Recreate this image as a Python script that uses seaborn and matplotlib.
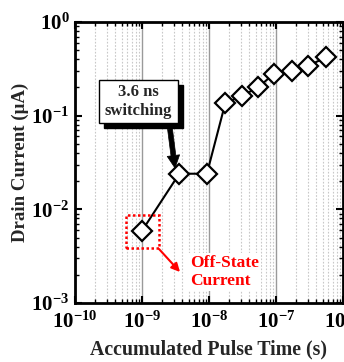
import numpy as np
import pandas as pd
import matplotlib
matplotlib.use("Agg")
import matplotlib.pyplot as plt
import matplotlib.ticker as mticker
from matplotlib.patches import Rectangle
import seaborn as sns

# ---- data ----
pulse_time = [1.0e-9, 3.6e-9, 9.3e-9, 1.75e-8, 3.1e-8, 5.4e-8, 9.3e-8, 1.75e-7, 3.0e-7, 5.6e-7]
drain_current = [0.0059, 0.024, 0.024, 0.136, 0.163, 0.20, 0.28, 0.30, 0.34, 0.42]
x_label = "Accumulated Pulse Time (s)"
y_label = "Drain Current (\u03bcA)"
box_text = "3.6 ns\nswitching"
red_text = "Off-State\nCurrent"

sns.set_style("ticks")
plt.rcParams["font.family"] = ["Liberation Serif", "DejaVu Serif"]
plt.rcParams["font.weight"] = "bold"
plt.rcParams["mathtext.fontset"] = "custom"
plt.rcParams["mathtext.rm"] = "Liberation Serif:bold"
plt.rcParams["mathtext.bf"] = "Liberation Serif:bold"

df = pd.DataFrame({"t": pulse_time, "i": drain_current})

fig = plt.figure(figsize=(3.44, 3.62), dpi=100)
ax = fig.add_axes([75/344, 1 - 303/362, 268/344, 281/362])

ax.set_xscale("log")
ax.set_yscale("log")
ax.set_xlim(1e-10, 1e-6)
ax.set_ylim(1e-3, 1e0)

# vertical grid only
ax.xaxis.set_major_locator(mticker.LogLocator(base=10, numticks=10))
ax.xaxis.set_minor_locator(mticker.LogLocator(base=10, subs=np.arange(2, 10), numticks=20))
ax.yaxis.set_major_locator(mticker.LogLocator(base=10, numticks=10))
ax.yaxis.set_minor_locator(mticker.LogLocator(base=10, subs=np.arange(2, 10), numticks=20))
ax.xaxis.set_minor_formatter(mticker.NullFormatter())
ax.yaxis.set_minor_formatter(mticker.NullFormatter())
ax.grid(False)
ax.xaxis.grid(True, which="major", color="#9a9a9a", lw=1.0, ls="-")
ax.xaxis.grid(True, which="minor", color="#c8c8c8", lw=0.8, ls=(0, (1.5, 1.5)))
ax.set_axisbelow(True)

sns.lineplot(data=df, x="t", y="i", ax=ax, color="black", lw=1.5,
             marker="D", markersize=10, markerfacecolor="white",
             markeredgecolor="black", markeredgewidth=1.6, zorder=5)

for s in ax.spines.values():
    s.set_linewidth(2.0)
    s.set_color("black")
ax.tick_params(which="both", direction="in", top=True, right=True, colors="black")
ax.tick_params(which="major", length=5, width=1.5, labelsize=15)
ax.tick_params(axis="x", which="major", pad=6)
ax.tick_params(axis="y", which="major", pad=4)
ax.tick_params(which="minor", length=3, width=1.0)
for lab in ax.get_xticklabels() + ax.get_yticklabels():
    lab.set_fontweight("bold")

ax.set_xlabel(x_label, fontsize=14.3, fontweight="bold", labelpad=5)
ax.set_ylabel(y_label, fontsize=13.6, fontweight="bold", labelpad=2)

# boxed annotation with shadow
bx0, bx1 = (99 - 75) / 268, (178 - 75) / 268
by0, by1 = 1 - (123 - 22) / 281, 1 - (80 - 22) / 281
off_x, off_y = 5 / 268, 5 / 281
ax.add_patch(Rectangle((bx0 + off_x, by0 - off_y), bx1 - bx0, by1 - by0,
                       transform=ax.transAxes, facecolor="black", edgecolor="black",
                       zorder=6, clip_on=False))
ax.add_patch(Rectangle((bx0, by0), bx1 - bx0, by1 - by0,
                       transform=ax.transAxes, facecolor="white", edgecolor="black",
                       lw=1.0, zorder=7, clip_on=False))
ax.text((bx0 + bx1) / 2, (by0 + by1) / 2, box_text, transform=ax.transAxes,
        ha="center", va="center", fontsize=12, fontweight="bold", zorder=8,
        linespacing=1.2)
ax.annotate("", xy=((175 - 75) / 268, 1 - (168 - 22) / 281),
            xytext=((170 - 75) / 268, 1 - (129 - 22) / 281),
            xycoords="axes fraction", textcoords="axes fraction",
            arrowprops=dict(arrowstyle="simple,head_length=0.9,head_width=0.9,tail_width=0.35",
                            color="black", lw=0.5, shrinkA=0, shrinkB=0), zorder=8)

# red dotted rectangle and arrow
rx0, rx1 = (126 - 75) / 268, (159 - 75) / 268
ry0, ry1 = 1 - (248 - 22) / 281, 1 - (215 - 22) / 281
ax.add_patch(Rectangle((rx0, ry0), rx1 - rx0, ry1 - ry0, transform=ax.transAxes,
                       fill=False, edgecolor="red", lw=1.8, ls=(0, (1, 1)), zorder=6))
ax.annotate("", xy=((180 - 75) / 268, 1 - (272 - 22) / 281),
            xytext=((159 - 75) / 268, 1 - (249 - 22) / 281),
            xycoords="axes fraction", textcoords="axes fraction",
            arrowprops=dict(arrowstyle="-|>,head_length=0.5,head_width=0.25",
                            color="red", lw=1.5, shrinkA=0, shrinkB=0), zorder=6)
ax.text((190 - 75) / 268, 1 - (272 - 22) / 281, red_text, transform=ax.transAxes,
        ha="left", va="center", fontsize=12.5, fontweight="bold", color="red",
        linespacing=1.1, zorder=6,
        bbox=dict(facecolor="white", edgecolor="none", pad=1.5))

fig.savefig("out.png", dpi=100)
